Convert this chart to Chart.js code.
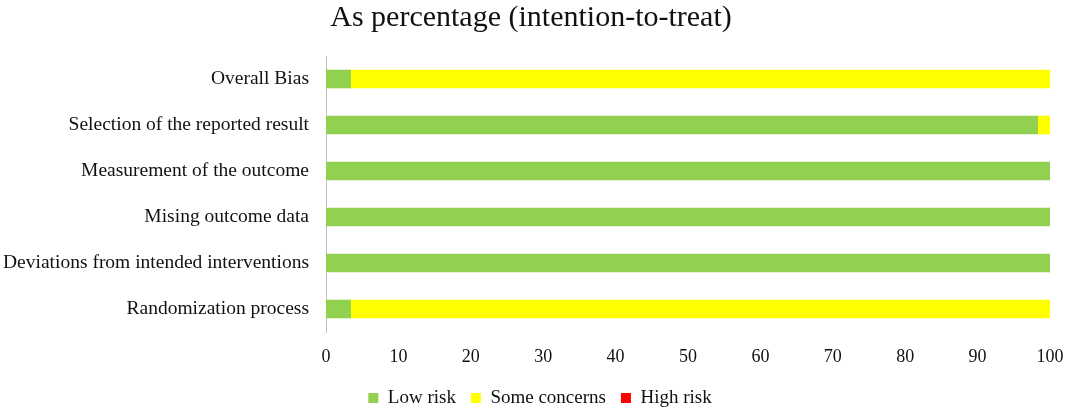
<!DOCTYPE html>
<html>
<head>
<meta charset="utf-8">
<script src="https://cdn.jsdelivr.net/npm/chart.js@4/dist/chart.umd.min.js"></script>
<style>
  html, body { margin: 0; padding: 0; background: #fff; }
  #wrap { width: 1065px; height: 409px; position: relative; }
</style>
</head>
<body>
<div id="wrap"><canvas id="chart"></canvas></div>
<script>
  // risk-of-bias domains, top to bottom
  var domains = [
    'Overall Bias',
    'Selection of the reported result',
    'Measurement of the outcome',
    'Mising outcome data',
    'Deviations from intended interventions',
    'Randomization process'
  ];
  var lowRisk = [3.4, 98.3, 100, 100, 100, 3.4];
  var someConcerns = [96.6, 1.7, 0, 0, 0, 96.6];
  var highRisk = [0, 0, 0, 0, 0, 0];
  var xTicks = [0, 10, 20, 30, 40, 50, 60, 70, 80, 90, 100];

  var FONT = "'Liberation Serif', 'Times New Roman', serif";
  var TXT = '#111';

  function series(label, data, color) {
    return { label: label, data: data, backgroundColor: color, borderWidth: 0, barThickness: 18 };
  }

  /* nudge title and legend sideways a little, like the original */
  var nudge = {
    id: 'nudge',
    afterLayout: function (chart) {
      if (chart.titleBlock) { chart.titleBlock.left += 6; chart.titleBlock.right += 6; }
      if (chart.legend) { chart.legend.left += 15; chart.legend.right += 15; }
    }
  };

  new Chart(document.getElementById('chart'), {
    type: 'bar',
    data: {
      labels: domains,
      datasets: [
        series('Low risk', lowRisk, '#92d050'),
        series('Some concerns', someConcerns, '#ffff00'),
        series('High risk', highRisk, '#ff0000')
      ]
    },
    plugins: [nudge],
    options: {
      indexAxis: 'y',
      responsive: true,
      maintainAspectRatio: false,
      animation: false,
      layout: { padding: { left: 0, right: 15, top: 0, bottom: -8.5 } },
      scales: {
        x: {
          stacked: true,
          min: 0,
          max: 100,
          afterBuildTicks: function (axis) {
            axis.ticks = xTicks.map(function (v) { return { value: v }; });
          },
          afterFit: function (axis) {
            axis.height = 41.5;
            axis.paddingLeft = 0;
            axis.paddingRight = 0;
          },
          grid: { display: false, drawTicks: false },
          border: { display: false },
          ticks: { padding: 14, color: TXT, font: { family: FONT, size: 18 } }
        },
        y: {
          stacked: true,
          afterFit: function (axis) { axis.width = 326; },
          grid: { display: false, drawTicks: false },
          border: { display: true, color: '#bfbfbf', width: 1 },
          ticks: { padding: 17, color: TXT, font: { family: FONT, size: 19.5 } }
        }
      },
      plugins: {
        title: {
          display: true,
          text: 'As percentage (intention-to-treat)',
          color: TXT,
          font: { family: FONT, size: 30, weight: 'normal' },
          padding: { top: 0, bottom: 20 }
        },
        legend: {
          position: 'bottom',
          labels: {
            boxWidth: 10,
            boxHeight: 10,
            padding: 15,
            color: TXT,
            font: { family: FONT, size: 19 }
          }
        },
        tooltip: { enabled: false }
      }
    }
  });
</script>
</body>
</html>
